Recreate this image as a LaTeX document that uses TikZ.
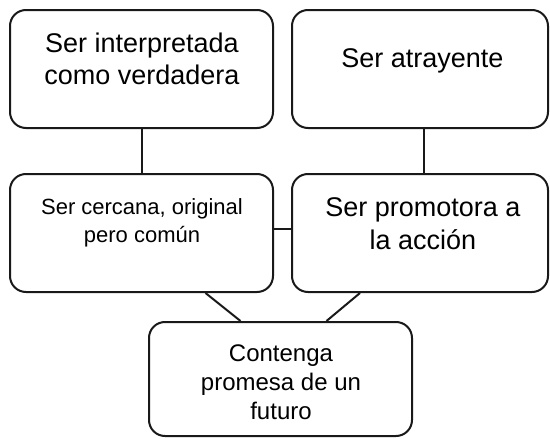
\documentclass[tikz,border=0pt]{standalone}
\usepackage{fontspec}
\setmainfont{Liberation Sans}
\begin{document}
\begin{tikzpicture}[x=1pt,y=-1pt,
    caja/.style={draw=black!90,line width=2pt,rounded corners=16pt,
      minimum width=263pt,minimum height=118pt,inner sep=0pt},
    texto/.style={anchor=north,align=center,inner sep=0pt,text=black}]
  \useasboundingbox (0,0) rectangle (550,439);
  \draw
    (141.5,69) node[caja] (verdad){}
    (420,69) node[caja,minimum width=256pt] (atrac){}
    (141.5,233) node[caja] (cercana){}
    (420,233) node[caja,minimum width=256pt] (promo){}
    (280.5,379) node[caja,minimum height=114pt] (futuro){};
  \draw
    (142,33) node[texto,font=\fontsize{27}{32}\selectfont] (verdad-t){Ser interpretada\\como verdadera}
    (422.5,48) node[texto,font=\fontsize{27}{32}\selectfont] (atrac-t){Ser atrayente}
    (142,198) node[texto,font=\fontsize{22}{28}\selectfont] (cercana-t){Ser cercana, original\\pero común}
    (423,197) node[texto,font=\fontsize{27}{33}\selectfont] (promo-t){Ser promotora a\\la acción}
    (281,345) node[texto,font=\fontsize{24}{29}\selectfont] (futuro-t){Contenga\\promesa de un\\futuro};
  \begin{scope}[-,line width=2pt,draw=black!90]
    \draw (verdad) to (cercana);
    \draw ([xshift=4pt]atrac.south) to ([xshift=4pt]promo.north);
    \draw ([yshift=4pt]cercana.east) to ([yshift=4pt]promo.west);
    \draw ([xshift=64pt]cercana.south) to ([xshift=-40pt]futuro.north);
    \draw ([xshift=-60pt]promo.south) to ([xshift=46pt]futuro.north);
  \end{scope}
\end{tikzpicture}
\end{document}
